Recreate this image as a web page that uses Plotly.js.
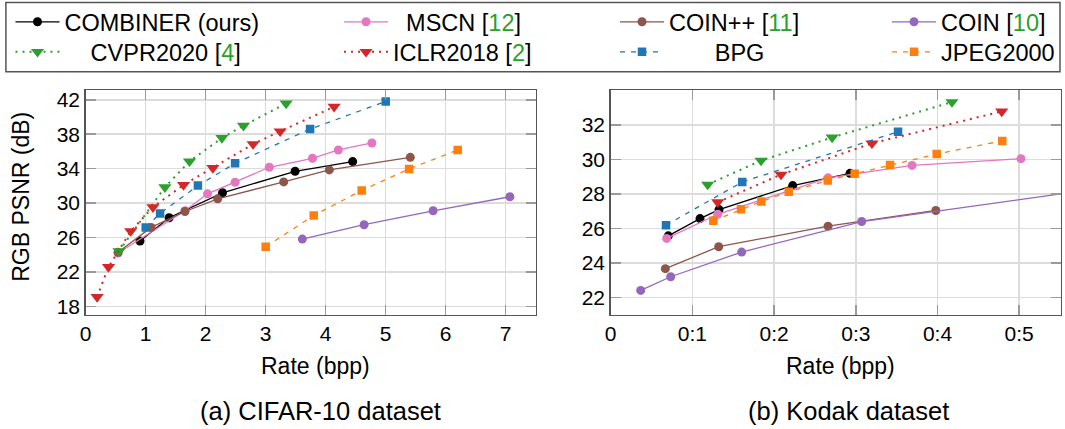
<!DOCTYPE html>
<html><head><meta charset="utf-8">
<script src="https://cdn.plot.ly/plotly-3.0.1.min.js"></script>
<style>html,body{margin:0;padding:0;background:#fff}#chart{width:1065px;height:429px}</style>
</head><body><div id="chart"></div><script>
// ---------- data: CIFAR-10 (rate in bpp, PSNR in dB) ----------
const cifarCombinerX = [0.905, 1.39, 2.28, 3.49, 4.45];
const cifarCombinerY = [25.58, 28.29, 31.19, 33.69, 34.82];
const cifarMscnX = [0.54, 1.655, 2.03, 2.49, 3.06, 3.78, 4.21, 4.77];
const cifarMscnY = [24.19, 29.1, 31.07, 32.42, 34.16, 35.2, 36.17, 36.98];
const cifarCoinppX = [0.54, 1.09, 1.655, 2.2, 3.3, 4.06, 5.41];
const cifarCoinppY = [24.27, 27.17, 29.02, 30.49, 32.46, 33.85, 35.31];
const cifarCoinX = [3.61, 4.64, 5.79, 7.07];
const cifarCoinY = [25.81, 27.48, 29.1, 30.73];
const cifarCvprX = [0.555, 1.32, 1.73, 2.27, 2.63, 3.34];
const cifarCvprY = [24.42, 31.84, 34.85, 37.56, 38.99, 41.57];
const cifarIclrX = [0.19, 0.38, 0.75, 1.12, 1.63, 2.12, 2.79, 3.24, 4.14];
const cifarIclrY = [19.09, 22.57, 26.74, 29.52, 32.1, 34.08, 36.86, 38.33, 41.19];
const cifarBpgX = [1.0, 1.24, 1.87, 2.49, 3.74, 5.0];
const cifarBpgY = [27.17, 28.79, 32.03, 34.62, 38.6, 41.8];
const cifarJpegX = [3.0, 3.8, 4.6, 5.39, 6.2];
const cifarJpegY = [24.93, 28.56, 31.46, 33.97, 36.17];

// ---------- data: Kodak ----------
const kodakCombinerX = [0.0705, 0.1093, 0.1326, 0.2228, 0.2929];
const kodakCombinerY = [25.58, 26.58, 27.1, 28.49, 29.2];
const kodakMscnX = [0.0685, 0.131, 0.266, 0.3688, 0.5022];
const kodakMscnY = [25.43, 26.83, 28.94, 29.66, 30.05];
const kodakCoinppX = [0.0669, 0.1322, 0.266, 0.398];
const kodakCoinppY = [23.68, 24.95, 26.14, 27.05];
const kodakCoinX = [0.0367, 0.0734, 0.1603, 0.3072, 0.6];
const kodakCoinY = [22.42, 23.21, 24.64, 26.41, 28.33];
const kodakCvprX = [0.1187, 0.184, 0.271, 0.4177];
const kodakCvprY = [28.55, 29.94, 31.28, 33.33];
const kodakIclrX = [0.131, 0.2085, 0.3198, 0.4786];
const kodakIclrY = [27.53, 29.13, 30.94, 32.79];
const kodakBpgX = [0.0677, 0.161, 0.3517];
const kodakBpgY = [26.2, 28.7, 31.61];
const kodakJpegX = [0.1256, 0.1595, 0.1844, 0.2179, 0.2656, 0.2986, 0.3419, 0.399, 0.4793];
const kodakJpegY = [26.45, 27.12, 27.57, 28.13, 28.78, 29.18, 29.69, 30.32, 31.08];

// ---------- tick labels ----------
const cifarXTicks = [0, 1, 2, 3, 4, 5, 6, 7];
const cifarYTicks = [18, 22, 26, 30, 34, 38, 42];
const kodakXTicks = [0, 0.1, 0.2, 0.3, 0.4, 0.5];
const kodakXTickText = ['0', '0:1', '0:2', '0:3', '0:4', '0:5'];
const kodakYTicks = [22, 24, 26, 28, 30, 32];

const W = 1065, H = 429;
const FONT = 'Liberation Sans, Arial, Helvetica, sans-serif';
const G = '#2ca02c';
const ref = n => '[<span style="color:' + G + '">' + n + '</span>]';
const nb = k => '\u00a0'.repeat(k);

// legend slot: column left edge (px) and row (0/1)
const methods = [
  {name: 'COMBINER (ours)', col: 10.5, row: 0, color: '#000000', dash: 'solid', w: 1.3, sym: 'circle', size: 9,
   a: [cifarCombinerX, cifarCombinerY], b: [kodakCombinerX, kodakCombinerY]},
  {name: nb(2) + 'MSCN ' + ref(12), col: 339, row: 0, color: '#e377c2', dash: 'solid', w: 1.3, sym: 'circle', size: 9,
   a: [cifarMscnX, cifarMscnY], b: [kodakMscnX, kodakMscnY]},
  {name: 'COIN++ ' + ref(11), col: 615, row: 0, color: '#8c564b', dash: 'solid', w: 1.3, sym: 'circle', size: 9,
   a: [cifarCoinppX, cifarCoinppY], b: [kodakCoinppX, kodakCoinppY]},
  {name: 'COIN ' + ref(10), col: 887, row: 0, color: '#9467bd', dash: 'solid', w: 1.3, sym: 'circle', size: 9,
   a: [cifarCoinX, cifarCoinY], b: [kodakCoinX, kodakCoinY]},
  {name: nb(4) + 'CVPR2020 ' + ref(4), col: 10.5, row: 1, color: '#2ca02c', dash: '2px,5px', w: 2, sym: 'triangle-down', size: 11.5,
   a: [cifarCvprX, cifarCvprY], b: [kodakCvprX, kodakCvprY]},
  {name: 'ICLR2018 ' + ref(2), col: 339, row: 1, color: '#d62728', dash: '2px,5px', w: 2, sym: 'triangle-down', size: 11.5,
   a: [cifarIclrX, cifarIclrY], b: [kodakIclrX, kodakIclrY]},
  {name: nb(7) + 'BPG', col: 615, row: 1, color: '#1f77b4', dash: '5px,6px', w: 1.3, sym: 'square', size: 8.5,
   a: [cifarBpgX, cifarBpgY], b: [kodakBpgX, kodakBpgY]},
  {name: 'JPEG2000', col: 887, row: 1, color: '#ff7f0e', dash: '5px,6px', w: 1.3, sym: 'square', size: 8.5,
   a: [cifarJpegX, cifarJpegY], b: [kodakJpegX, kodakJpegY]}
];

const px = v => v / W, py = v => 1 - v / H;
const legBase = {
  orientation: 'v', xanchor: 'left', yanchor: 'top', bgcolor: 'rgba(0,0,0,0)', borderwidth: 0,
  font: {family: FONT, size: 23.5, color: '#000'}, itemwidth: 44, tracegroupgap: 0, traceorder: 'normal'
};

const traces = [];
const legends = {};
methods.forEach((m, i) => {
  const key = i === 0 ? 'legend' : 'legend' + (i + 1);
  legends[key] = Object.assign({}, legBase, {x: px(m.col), y: py(-1 + m.row * 31)});
  const base = {
    type: 'scatter', mode: 'lines+markers', name: m.name,
    line: {color: m.color, width: m.w, dash: m.dash},
    marker: {color: m.color, symbol: m.sym, size: m.size, line: {width: 0}}
  };
  traces.push(Object.assign({}, base, {x: m.a[0], y: m.a[1], xaxis: 'x', yaxis: 'y', legend: key, showlegend: true}));
  traces.push(Object.assign({}, base, {x: m.b[0], y: m.b[1], xaxis: 'x2', yaxis: 'y2', showlegend: false}));
});

const axBase = {
  showline: true, linecolor: '#555555', linewidth: 1.5, mirror: 'ticks',
  ticks: 'inside', ticklen: 10, tickcolor: '#9a9a9a', tickwidth: 1.5,
  showgrid: true, gridcolor: '#dcdcdc', gridwidth: 1.5, zeroline: false,
  tickfont: {family: FONT, size: 21, color: '#000'}, fixedrange: true
};

const layout = Object.assign({
  width: W, height: H, margin: {l: 0, r: 0, t: 0, b: 0},
  paper_bgcolor: '#fff', plot_bgcolor: '#fff',
  font: {family: FONT, color: '#000'},
  xaxis: Object.assign({}, axBase, {domain: [px(85.7), px(535.7)], range: [0, 7.5], tickvals: cifarXTicks, anchor: 'y'}),
  yaxis: Object.assign({}, axBase, {domain: [py(314.3), py(89.7)], range: [17.04, 43.08], tickvals: cifarYTicks, anchor: 'x'}),
  xaxis2: Object.assign({}, axBase, {domain: [px(610.7), px(1060.7)], range: [0, 0.5508], tickvals: kodakXTicks, ticktext: kodakXTickText, anchor: 'y2'}),
  yaxis2: Object.assign({}, axBase, {domain: [py(314.3), py(89.7)], range: [21.02, 34.0], tickvals: kodakYTicks, anchor: 'x2'}),
  shapes: [{type: 'rect', xref: 'paper', yref: 'paper', x0: px(5.9), x1: px(1060), y0: py(71), y1: py(1.5),
            line: {color: '#555555', width: 1.5}, fillcolor: 'rgba(0,0,0,0)'}],
  annotations: [
    {text: 'RGB PSNR (dB)', textangle: -90, x: px(21.5), y: py(196.7), xref: 'paper', yref: 'paper', showarrow: false,
     xanchor: 'center', yanchor: 'middle', font: {family: FONT, size: 23, color: '#000'}},
    {text: 'Rate (bpp)', x: px(315), y: py(366), xref: 'paper', yref: 'paper', showarrow: false,
     xanchor: 'center', yanchor: 'middle', font: {family: FONT, size: 23, color: '#000'}},
    {text: 'Rate (bpp)', x: px(840), y: py(366), xref: 'paper', yref: 'paper', showarrow: false,
     xanchor: 'center', yanchor: 'middle', font: {family: FONT, size: 23, color: '#000'}},
    {text: '(a) CIFAR-10 dataset', x: px(320.7), y: py(410.5), xref: 'paper', yref: 'paper', showarrow: false,
     xanchor: 'center', yanchor: 'middle', font: {family: FONT, size: 25.5, color: '#000'}},
    {text: '(b) Kodak dataset', x: px(848.7), y: py(410.5), xref: 'paper', yref: 'paper', showarrow: false,
     xanchor: 'center', yanchor: 'middle', font: {family: FONT, size: 25.5, color: '#000'}}
  ]
}, legends);

Plotly.newPlot('chart', traces, layout, {displayModeBar: false, staticPlot: true});
</script></body></html>
